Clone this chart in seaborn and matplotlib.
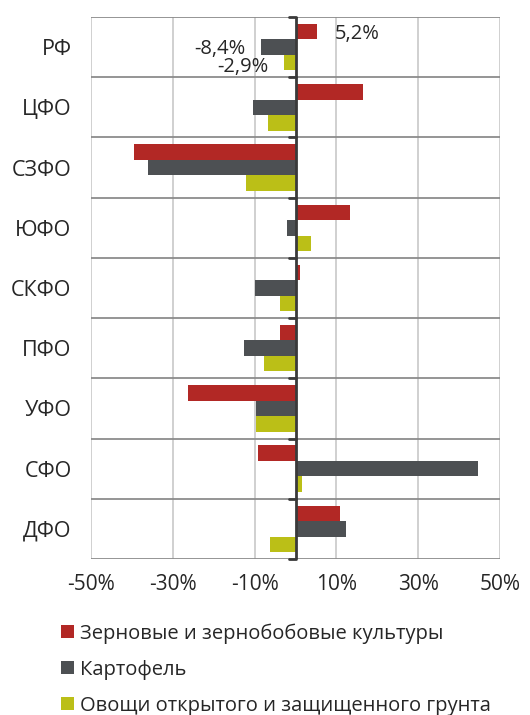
import matplotlib
matplotlib.use("Agg")
import matplotlib.pyplot as plt
import matplotlib.transforms as mtransforms
from matplotlib.patches import Patch
import seaborn as sns
import pandas as pd

categories = ["РФ", "ЦФО", "СЗФО", "ЮФО", "СКФО", "ПФО", "УФО", "СФО", "ДФО"]
series = ["Зерновые и зернобобовые культуры", "Картофель", "Овощи открытого и защищенного грунта"]
grain = [5.2, 16.5, -39.6, 13.3, 1.1, -3.8, -26.3, -9.1, 11.0]
potato = [-8.4, -10.5, -36.0, -2.2, -9.9, -12.5, -9.6, 44.7, 12.4]
veg = [-2.9, -6.8, -12.1, 3.9, -3.8, -7.7, -9.6, 1.7, -6.3]
xticks = [-50, -30, -10, 10, 30, 50]
colors = ["#B22825", "#4D5053", "#BBBF17"]

df = pd.DataFrame({"cat": categories, series[0]: grain, series[1]: potato, series[2]: veg})
long = df.melt(id_vars="cat", var_name="series", value_name="value")

sns.set_style("white")
plt.rcParams["font.family"] = ["Open Sans", "DejaVu Sans"]

fig = plt.figure(figsize=(5.3, 7.15), dpi=100)
ax = fig.add_axes([91/530, 156/715, 409/530, 542/715])

sns.barplot(data=long, y="cat", x="value", hue="series", hue_order=series,
            order=categories, palette=colors, orient="h", width=0.77,
            ax=ax, legend=False, saturation=1, edgecolor="none", zorder=3)

ax.set_xlim(-50, 50)
ax.set_ylim(len(categories) - 0.5, -0.5)
ax.set_xticks(xticks)
ax.set_xticklabels([f"{t}%" for t in xticks], fontsize=15)
ax.tick_params(axis="x", length=0, pad=11)
ax.tick_params(axis="y", length=0, pad=14, labelsize=15.5)
ax.set_xlabel("")
ax.set_ylabel("")

for x in xticks:
    ax.axvline(x, color="#C8C8C8", lw=1.2, zorder=1)
for i in range(len(categories) + 1):
    ax.axhline(i - 0.5, color="#8C8C8C", lw=1.3, zorder=2)
for s in ax.spines.values():
    s.set_visible(False)

ax.axvline(0, color="#3A3A3A", lw=2, zorder=5)
trans = mtransforms.blended_transform_factory(ax.transAxes, ax.transData)
x0 = 0.5
for i in range(len(categories) + 1):
    ax.plot([x0 - 0.016, x0], [i - 0.5, i - 0.5], color="#3A3A3A", lw=2,
            transform=trans, zorder=6, clip_on=False)

# data labels for РФ
bw = 0.77 / 3
labels_rf = [(grain[0], -bw, (13, -1.5)), (potato[0], 0, (-11, -1.5)), (veg[0], bw, (-11, -3.5))]
for val, dy, off in labels_rf:
    txt = f"{val:.1f}%".replace(".", ",")
    ax.annotate(txt, (val, 0 + dy), xytext=off, textcoords="offset points",
                ha="left" if val > 0 else "right", va="center", fontsize=14.5, zorder=7)

handles = [Patch(facecolor=c, edgecolor="none") for c in colors]
fig.legend(handles, series, loc="upper left", bbox_to_anchor=(53/530, 1 - 615/715),
           frameon=False, fontsize=14.5, handlelength=0.65, handleheight=0.65,
           handletextpad=0.3, labelspacing=0.8, borderaxespad=0)

fig.savefig("out.png", dpi=100)
